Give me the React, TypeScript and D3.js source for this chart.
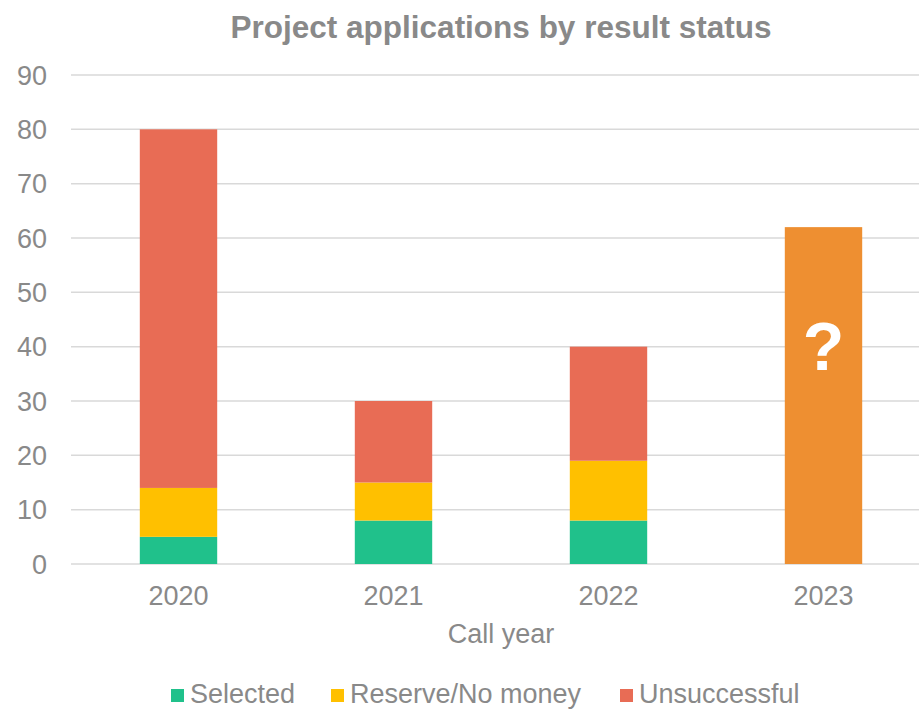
import React, { useEffect, useRef } from 'react';
import * as d3 from 'd3';

const years = ['2020', '2021', '2022', '2023'];
const selected = [5, 8, 8, 0];
const reserve = [9, 7, 11, 0];
const unsuccessful = [66, 15, 21, 0];
const unknown = [0, 0, 0, 62];
const yTicks = [0, 10, 20, 30, 40, 50, 60, 70, 80, 90];

const seriesNames = ['Selected', 'Reserve/No money', 'Unsuccessful'];
const seriesColors = ['#20C18B', '#FFC000', '#E86C55'];
const unknownColor = '#EE8F31';
const textColor = '#898989';
const font = '"Liberation Sans", Arial, sans-serif';

const W = 919;
const H = 710;

export default function App() {
  const ref = useRef<SVGSVGElement>(null);

  useEffect(() => {
    const svg = d3.select(ref.current);
    svg.selectAll('*').remove();

    const left = 71;
    const right = 931;
    const top = 75;
    const bottom = 564;

    const x = d3.scaleBand().domain(years).range([left, right]).paddingInner(0.64).paddingOuter(0.32);
    const y = d3.scaleLinear().domain([0, 90]).range([bottom, top]);

    // gridlines
    svg.selectAll('.grid')
      .data(yTicks)
      .enter()
      .append('line')
      .attr('x1', left)
      .attr('x2', right)
      .attr('y1', d => y(d))
      .attr('y2', d => y(d))
      .attr('stroke', '#D9D9D9')
      .attr('stroke-width', 1.5);

    svg.selectAll('.ylabel')
      .data(yTicks)
      .enter()
      .append('text')
      .attr('x', 47)
      .attr('y', d => y(d))
      .attr('dy', '0.36em')
      .attr('text-anchor', 'end')
      .attr('font-size', 27)
      .attr('fill', textColor)
      .text(d => d);

    // stacked bars
    const rows = years.map((yr, i) => ({
      year: yr,
      Selected: selected[i],
      'Reserve/No money': reserve[i],
      Unsuccessful: unsuccessful[i],
    }));
    const stack = d3.stack<any>().keys(seriesNames)(rows);

    stack.forEach((layer, k) => {
      svg.selectAll('.bar' + k)
        .data(layer.filter(d => d[1] > d[0]))
        .enter()
        .append('rect')
        .attr('x', d => x(d.data.year)!)
        .attr('width', x.bandwidth())
        .attr('y', d => y(d[1]))
        .attr('height', d => y(d[0]) - y(d[1]))
        .attr('fill', seriesColors[k]);
    });

    // 2023: result not known yet
    const unk = years.map((yr, i) => ({ year: yr, v: unknown[i] })).filter(d => d.v > 0);
    svg.selectAll('.unk')
      .data(unk)
      .enter()
      .append('rect')
      .attr('x', d => x(d.year)!)
      .attr('width', x.bandwidth())
      .attr('y', d => y(d.v))
      .attr('height', d => y(0) - y(d.v))
      .attr('fill', unknownColor);

    svg.selectAll('.q')
      .data(unk)
      .enter()
      .append('text')
      .attr('x', d => x(d.year)! + x.bandwidth() / 2)
      .attr('y', 370)
      .attr('text-anchor', 'middle')
      .attr('font-size', 68)
      .attr('font-weight', 'bold')
      .attr('fill', '#FFFFFF')
      .text('?');

    svg.selectAll('.xlabel')
      .data(years)
      .enter()
      .append('text')
      .attr('x', d => x(d)! + x.bandwidth() / 2)
      .attr('y', 605)
      .attr('text-anchor', 'middle')
      .attr('font-size', 27)
      .attr('fill', textColor)
      .text(d => d);

    svg.append('text')
      .attr('x', (left + right) / 2)
      .attr('y', 643)
      .attr('text-anchor', 'middle')
      .attr('font-size', 27)
      .attr('fill', textColor)
      .text('Call year');

    svg.append('text')
      .attr('x', (left + right) / 2)
      .attr('y', 38)
      .attr('text-anchor', 'middle')
      .attr('font-size', 31.5)
      .attr('font-weight', 'bold')
      .attr('fill', textColor)
      .text('Project applications by result status');

    // legend
    const legendX = [171, 331, 620];
    seriesNames.forEach((name, i) => {
      const g = svg.append('g').attr('transform', `translate(${legendX[i]},0)`);
      g.append('rect').attr('x', 0).attr('y', 689).attr('width', 13).attr('height', 13).attr('fill', seriesColors[i]);
      g.append('text')
        .attr('x', 19)
        .attr('y', 703)
        .attr('font-size', 27)
        .attr('fill', textColor)
        .text(name);
    });
  }, []);

  return (
    <svg
      ref={ref}
      width={W}
      height={H}
      style={{ position: 'absolute', left: 0, top: 0, background: '#fff', fontFamily: font }}
    />
  );
}
